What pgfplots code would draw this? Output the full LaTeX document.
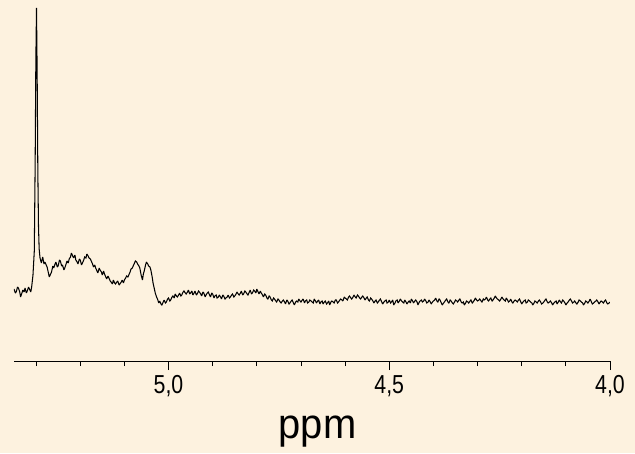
\documentclass[border=0pt]{standalone}
\usepackage{pgfplots}
\pgfplotsset{compat=1.18}
\usepackage{graphicx}
\usepackage{fontspec}
\setmainfont{Liberation Sans}
\definecolor{bgcol}{RGB}{253,242,223}
\begin{document}
\begin{tikzpicture}
\fill[bgcol] (0,0) rectangle (635pt,453pt);
\begin{axis}[
  at={(14pt,92pt)}, anchor=south west,
  scale only axis, width=596pt, height=361pt,
  xmin=4.0, xmax=5.35, x dir=reverse,
  ymin=0, ymax=361,
  axis x line*=bottom, axis y line=none, ytick=\empty,
  xtick={4,4.5,5},
  xticklabels={{\scalebox{0.82}[1]{4,0}},{\scalebox{0.82}[1]{4,5}},{\scalebox{0.82}[1]{5,0}}},
  minor xtick={4.1,4.2,4.3,4.4,4.6,4.7,4.8,4.9,5.1,5.2,5.3},
  tick align=outside, major tick length=9pt, minor tick length=5pt,
  tick style={black, line width=0.8pt},
  axis line style={black, line width=0.8pt},
  xticklabel style={font=\fontsize{26}{30}\selectfont, anchor=north, inner sep=0pt, yshift=-5pt},
  xlabel={\scalebox{0.95}[1]{ppm}},
  xlabel style={font=\fontsize{42}{48}\selectfont, at={(axis description cs:0.5,0)}, anchor=base, inner sep=0pt, yshift=-77pt, xshift=5.5pt},
]
\addplot[black, line width=1.05pt, line join=miter, miter limit=2] table {
x y
5.350 72
5.347 68
5.345 69
5.342 74
5.340 73
5.337 69
5.335 64
5.332 68
5.330 71
5.327 69
5.325 73
5.322 68
5.320 70
5.317 74
5.315 72
5.312 69
5.310 74
5.307 86
5.304 110
5.302 200
5.3005 300
5.299 353
5.2975 285
5.296 190
5.2945 135
5.293 112
5.291 103
5.288 98
5.285 104
5.282 97
5.280 99
5.277 96
5.275 94
5.272 88
5.270 84
5.267 87
5.265 89
5.262 95
5.260 93
5.257 97
5.255 99
5.252 94
5.250 95
5.247 101
5.245 100
5.242 95
5.240 96
5.237 91
5.235 93
5.232 97
5.230 100
5.227 98
5.225 102
5.222 104
5.220 108
5.217 105
5.215 103
5.212 106
5.210 101
5.207 99
5.205 97
5.202 102
5.200 101
5.197 96
5.195 98
5.192 101
5.190 104
5.187 103
5.185 107
5.182 105
5.180 103
5.177 102
5.175 100
5.172 97
5.170 94
5.167 96
5.165 93
5.162 90
5.160 88
5.157 93
5.155 91
5.152 89
5.150 86
5.147 90
5.145 87
5.142 84
5.140 82
5.137 85
5.135 83
5.132 80
5.130 79
5.127 77
5.125 81
5.122 78
5.120 77
5.117 79
5.115 80
5.112 76
5.110 77
5.107 79
5.105 81
5.102 78
5.100 81
5.097 83
5.095 85
5.092 84
5.090 86
5.087 89
5.085 92
5.082 93
5.080 95
5.077 98
5.075 100
5.072 99
5.070 97
5.067 95
5.065 93
5.062 86
5.059 81
5.057 87
5.055 90
5.052 96
5.050 99
5.047 97
5.045 95
5.042 94
5.040 91
5.037 84
5.035 78
5.032 72
5.030 68
5.027 64
5.025 62
5.022 58
5.020 60
5.017 57
5.015 56
5.012 59
5.010 61
5.007 58
5.005 59
5.002 62
5.000 63
4.997 60
4.995 61
4.992 64
4.990 65
4.987 63
4.985 67
4.982 65
4.980 64
4.977 66
4.975 68
4.972 65
4.970 66
4.967 69
4.965 70
4.962 68
4.960 67
4.957 69
4.955 71
4.952 67
4.950 68
4.947 70
4.945 66
4.942 68
4.940 70
4.937 66
4.935 67
4.932 70
4.930 69
4.927 67
4.925 65
4.922 69
4.920 68
4.917 64
4.915 66
4.912 68
4.910 69
4.907 66
4.905 64
4.902 68
4.900 67
4.897 63
4.895 65
4.892 66
4.890 63
4.887 64
4.885 66
4.882 64
4.880 62
4.877 66
4.875 65
4.872 62
4.870 63
4.867 64
4.865 66
4.862 63
4.860 64
4.857 66
4.855 67
4.852 64
4.850 65
4.847 67
4.845 69
4.842 67
4.840 66
4.837 68
4.835 70
4.832 66
4.830 67
4.827 70
4.825 69
4.822 67
4.820 66
4.817 69
4.815 71
4.812 67
4.810 68
4.807 71
4.805 70
4.802 68
4.800 72
4.797 69
4.795 67
4.792 70
4.790 68
4.787 66
4.785 64
4.782 67
4.780 66
4.777 63
4.775 62
4.772 65
4.770 64
4.767 61
4.765 60
4.762 63
4.760 62
4.757 60
4.755 59
4.752 62
4.750 61
4.747 59
4.745 58
4.742 60
4.740 61
4.737 59
4.735 57
4.732 61
4.730 60
4.727 57
4.725 58
4.722 60
4.720 61
4.717 58
4.715 56
4.712 59
4.710 60
4.707 59
4.705 62
4.702 60
4.700 59
4.697 61
4.695 62
4.692 58
4.690 60
4.687 61
4.685 58
4.682 59
4.680 61
4.677 60
4.675 59
4.672 58
4.670 62
4.667 60
4.665 58
4.662 60
4.660 61
4.657 57
4.655 59
4.652 60
4.650 57
4.647 59
4.645 60
4.642 57
4.640 58
4.637 60
4.635 56
4.632 59
4.630 60
4.627 59
4.625 58
4.622 61
4.620 61
4.617 58
4.615 59
4.612 61
4.610 62
4.607 61
4.605 60
4.602 64
4.600 63
4.597 62
4.595 61
4.592 64
4.590 65
4.587 63
4.585 62
4.582 64
4.580 66
4.577 64
4.575 63
4.572 66
4.570 65
4.567 63
4.565 62
4.562 64
4.560 65
4.557 63
4.555 61
4.552 63
4.550 64
4.547 61
4.545 60
4.542 63
4.540 62
4.537 60
4.535 58
4.532 60
4.530 61
4.527 58
4.525 59
4.522 61
4.520 62
4.517 59
4.515 57
4.512 59
4.510 60
4.507 61
4.505 58
4.502 59
4.500 61
4.497 58
4.495 59
4.492 61
4.490 56
4.487 58
4.485 60
4.482 61
4.480 58
4.477 60
4.475 62
4.472 60
4.470 59
4.467 58
4.465 61
4.462 59
4.460 57
4.457 59
4.455 60
4.452 58
4.450 62
4.447 60
4.445 58
4.442 60
4.440 61
4.437 59
4.435 56
4.432 59
4.430 60
4.427 61
4.425 59
4.422 60
4.420 62
4.417 60
4.415 58
4.412 59
4.410 61
4.407 59
4.405 57
4.402 59
4.400 60
4.397 61
4.395 63
4.392 60
4.390 59
4.387 62
4.385 61
4.382 58
4.380 56
4.377 58
4.375 59
4.372 61
4.370 62
4.367 59
4.365 58
4.362 61
4.360 60
4.357 58
4.355 57
4.352 59
4.350 61
4.347 60
4.345 59
4.342 61
4.340 62
4.337 59
4.335 58
4.332 59
4.330 56
4.327 58
4.325 60
4.322 59
4.320 58
4.317 60
4.315 61
4.312 58
4.310 59
4.307 61
4.305 63
4.302 61
4.300 60
4.297 61
4.295 62
4.292 60
4.290 59
4.287 62
4.285 61
4.282 62
4.280 64
4.277 61
4.275 60
4.272 62
4.270 63
4.267 60
4.265 61
4.262 63
4.260 65
4.257 63
4.255 62
4.252 61
4.250 60
4.247 62
4.245 64
4.242 62
4.240 61
4.237 60
4.235 63
4.232 61
4.230 59
4.227 60
4.225 62
4.222 59
4.220 58
4.217 60
4.215 61
4.212 60
4.210 59
4.207 61
4.205 62
4.202 59
4.200 57
4.197 59
4.195 60
4.192 61
4.190 58
4.187 59
4.185 61
4.182 60
4.180 59
4.177 58
4.175 56
4.172 58
4.170 60
4.167 59
4.165 58
4.162 60
4.160 61
4.157 59
4.155 57
4.152 58
4.150 59
4.147 61
4.145 62
4.142 59
4.140 58
4.137 59
4.135 60
4.132 58
4.130 56
4.127 58
4.125 59
4.122 60
4.120 57
4.117 59
4.115 61
4.112 59
4.110 58
4.107 61
4.105 60
4.102 58
4.100 56
4.097 58
4.095 59
4.092 61
4.090 62
4.087 60
4.085 58
4.082 59
4.080 60
4.077 58
4.075 57
4.072 59
4.070 61
4.067 60
4.065 59
4.062 58
4.060 56
4.057 58
4.055 60
4.052 59
4.050 58
4.047 60
4.045 62
4.042 59
4.040 57
4.037 58
4.035 59
4.032 60
4.030 61
4.027 59
4.025 57
4.022 59
4.020 60
4.017 59
4.015 58
4.012 60
4.010 61
4.007 58
4.005 57
4.002 58
4.000 59
};
\end{axis}
\pgfresetboundingbox
\useasboundingbox (0,0) rectangle (635pt,453pt);
\end{tikzpicture}
\end{document}
